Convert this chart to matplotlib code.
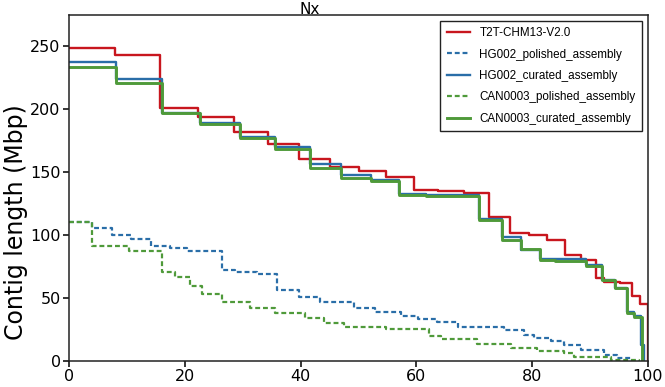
import matplotlib
matplotlib.use("Agg")
import matplotlib.pyplot as plt

# ======= Nx step data (x = Nx %, y = contig length in Mbp) =======
# step(where='post'): each y holds from its x up to the next x
t2t_x = [0, 8.0, 15.8, 22.3, 28.5, 34.3, 39.8, 45.0, 50.0, 54.8, 59.5, 63.8, 68.2,
         72.5, 76.2, 79.4, 82.6, 85.7, 88.4, 91.1, 92.4, 95.1, 97.2, 98.7, 100]
t2t_y = [248.4, 242.7, 201.1, 193.6, 182.0, 172.1, 160.6, 154.3, 150.6, 146.3, 135.6, 135.0, 133.6,
         114.0, 101.2, 99.8, 96.3, 84.3, 80.5, 66.0, 63.0, 62.0, 51.3, 45.1, 0]

hg2_pol_x = [0, 3.9, 7.5, 10.7, 14.1, 17.5, 20.4, 26.4, 28.7, 32.5, 35.9, 39.7, 43.3, 49.2,
             52.9, 57.3, 60.2, 63.6, 67.1, 75.1, 78.6, 80.3, 83.2, 85.5, 88.5, 92.4, 94.7, 97.3]
hg2_pol_y = [110, 105.3, 100, 96.8, 91.3, 89.4, 87.3, 72.2, 70.4, 68.8, 56.3, 51, 46.6, 42.3,
             39.1, 35.7, 33.1, 31.2, 26.7, 24.6, 20.6, 18, 16.1, 12.4, 8.7, 4.8, 2.1, 0]

hg2_cur_x = [0, 8.2, 16.0, 22.7, 29.6, 35.6, 41.7, 46.9, 52.1, 57.0, 61.6, 66.2, 70.8,
             74.7, 78.0, 81.3, 89.3, 92.0, 94.3, 96.4, 97.6, 98.8, 99.3]
hg2_cur_y = [237.5, 223.8, 197.0, 189.0, 177.5, 169.5, 156.5, 148.0, 144.0, 132.5, 132.0, 131.5, 112.5,
             98.4, 88.4, 81.0, 76.0, 64.5, 58.0, 38.5, 35.5, 13.0, 0]

can_pol_x = [0, 3.9, 10.3, 16.0, 18.3, 20.9, 23.0, 26.4, 31.3, 35.6, 40.8, 44.0, 47.5,
             54.7, 62.2, 64.2, 70.5, 76.3, 80.9, 85.5, 87.2, 93.6, 98.5]
can_pol_y = [110, 91.3, 87.6, 70.9, 66.9, 59.8, 52.9, 46.6, 41.8, 37.8, 34.4, 29.8, 27.2,
             25.1, 20.1, 17.2, 13.2, 10.1, 7.9, 6.0, 3.4, 0.8, 0]

can_cur_x = [0, 8.2, 16.0, 22.7, 29.6, 35.6, 41.7, 46.9, 52.1, 57.0, 61.6, 66.2, 70.8,
             74.7, 78.0, 81.3, 84.0, 89.3, 92.0, 94.3, 96.4, 97.6, 99.0]
can_cur_y = [233.5, 221.0, 196.6, 188.1, 176.7, 168.3, 153.4, 145.5, 142.5, 131.7, 131.2, 130.6, 111.9,
             96.4, 88.6, 80.2, 79.4, 75.4, 64.3, 57.7, 37.8, 34.7, 0]

labels = ["T2T-CHM13-V2.0", "HG002_polished_assembly", "HG002_curated_assembly",
          "CAN0003_polished_assembly", "CAN0003_curated_assembly"]

red = "#c8161e"
blue = "#2a6ea8"
green = "#4f9a3a"

# ======= Plot =======
fig = plt.figure(figsize=(6.65, 3.87), dpi=100)
ax = fig.add_axes([69 / 665, 1 - 361 / 387, (648 - 69) / 665, (361 - 15) / 387])

ax.step(t2t_x, t2t_y, where="post", color=red, lw=1.7, label=labels[0])
ax.step(hg2_pol_x, hg2_pol_y, where="post", color=blue, lw=1.6, dashes=(2.2, 1.3), label=labels[1])
ax.step(hg2_cur_x, hg2_cur_y, where="post", color=blue, lw=1.7, label=labels[2])
ax.step(can_pol_x, can_pol_y, where="post", color=green, lw=1.6, dashes=(2.2, 1.3), label=labels[3])
ax.step(can_cur_x, can_cur_y, where="post", color=green, lw=2.1, label=labels[4])

ax.set_xlim(0, 100)
ax.set_ylim(0, 274.6)
ax.set_xticks(range(0, 101, 20))
ax.set_yticks(range(0, 251, 50))
ax.tick_params(labelsize=11.5, length=4, width=1.1, pad=2)
for s in ax.spines.values():
    s.set_linewidth(1.1)
    s.set_color("#222222")
ax.set_ylabel("Contig length (Mbp)", fontsize=17)
ax.yaxis.set_label_coords(-0.071, 0.40)

fig.text(310 / 665, 1 - 14.5 / 387, "Nx", ha="center", va="baseline", fontsize=11)

leg = ax.legend(loc="upper right", fancybox=False, edgecolor="#222222", framealpha=1,
                prop={"family": "Liberation Sans", "size": 8.4}, labelspacing=0.8,
                handlelength=2.0, borderpad=0.55)
leg.get_frame().set_linewidth(1.0)

fig.savefig("out.png", dpi=100)
